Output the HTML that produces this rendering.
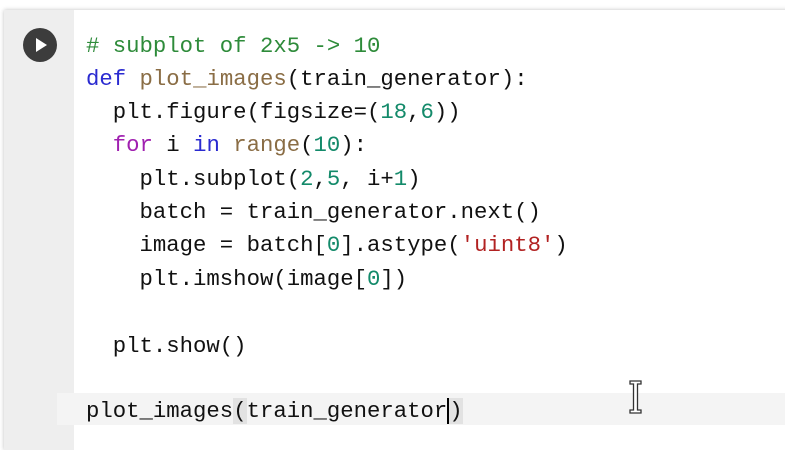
<!DOCTYPE html>
<html><head><style>
body{margin:0;width:785px;height:443px;background:#fff;position:relative;overflow:hidden;font-family:"Liberation Mono",monospace}
.card{position:absolute;left:4px;top:10px;width:790px;height:440px;background:#fff;box-shadow:0 0 4px rgba(0,0,0,.25)}
.gut{position:absolute;left:4px;top:10px;width:70px;height:440px;background:#eeeeee}
.play{position:absolute;left:23px;top:28px;width:34px;height:34px;border-radius:50%;background:#3c3c3c}
.play:after{content:"";position:absolute;left:13px;top:10px;border-left:11px solid #fff;border-top:7px solid transparent;border-bottom:7px solid transparent}
.cur{position:absolute;left:57px;top:393px;width:740px;height:32px;background:#f4f4f4}
.l{position:absolute;left:86px;font-size:22.3px;line-height:30px;white-space:pre;color:#111}
.c{color:#2e8b3a}.k{color:#2a2ad0}.f{color:#8a6d45}.n{color:#138a6a}.p{color:#a020b0}.s{color:#b22222}
.br{background:#e2e2e2}
</style></head><body>
<div class="card"></div><div class="gut"></div><div class="play"></div>
<div class="cur"></div>
<div class="l" style="top:31px"><span class="c"># subplot of 2x5 -&gt; 10</span></div>
<div class="l" style="top:64px"><span class="k">def</span> <span class="f">plot_images</span>(train_generator):</div>
<div class="l" style="top:97px">  plt.figure(figsize=(<span class="n">18</span>,<span class="n">6</span>))</div>
<div class="l" style="top:130px">  <span class="p">for</span> i <span class="k">in</span> <span class="f">range</span>(<span class="n">10</span>):</div>
<div class="l" style="top:164px">    plt.subplot(<span class="n">2</span>,<span class="n">5</span>, i+<span class="n">1</span>)</div>
<div class="l" style="top:197px">    batch = train_generator.next()</div>
<div class="l" style="top:230px">    image = batch[<span class="n">0</span>].astype(<span class="s">'uint8'</span>)</div>
<div class="l" style="top:264px">    plt.imshow(image[<span class="n">0</span>])</div>
<div class="l" style="top:331px">  plt.show()</div>
<div class="l" style="top:396px">plot_images<span class="br">(</span>train_generato<span style="border-right:2px solid #000">r</span><span class="br">)</span></div>
<svg style="position:absolute;left:628px;top:379px" width="16" height="36"><path d="M2 2h11v3h-3.5v26h3.5v3h-11v-3h3.5v-26h-3.5z" fill="#fff" stroke="#333" stroke-width="1.3"/></svg>
</body></html>
